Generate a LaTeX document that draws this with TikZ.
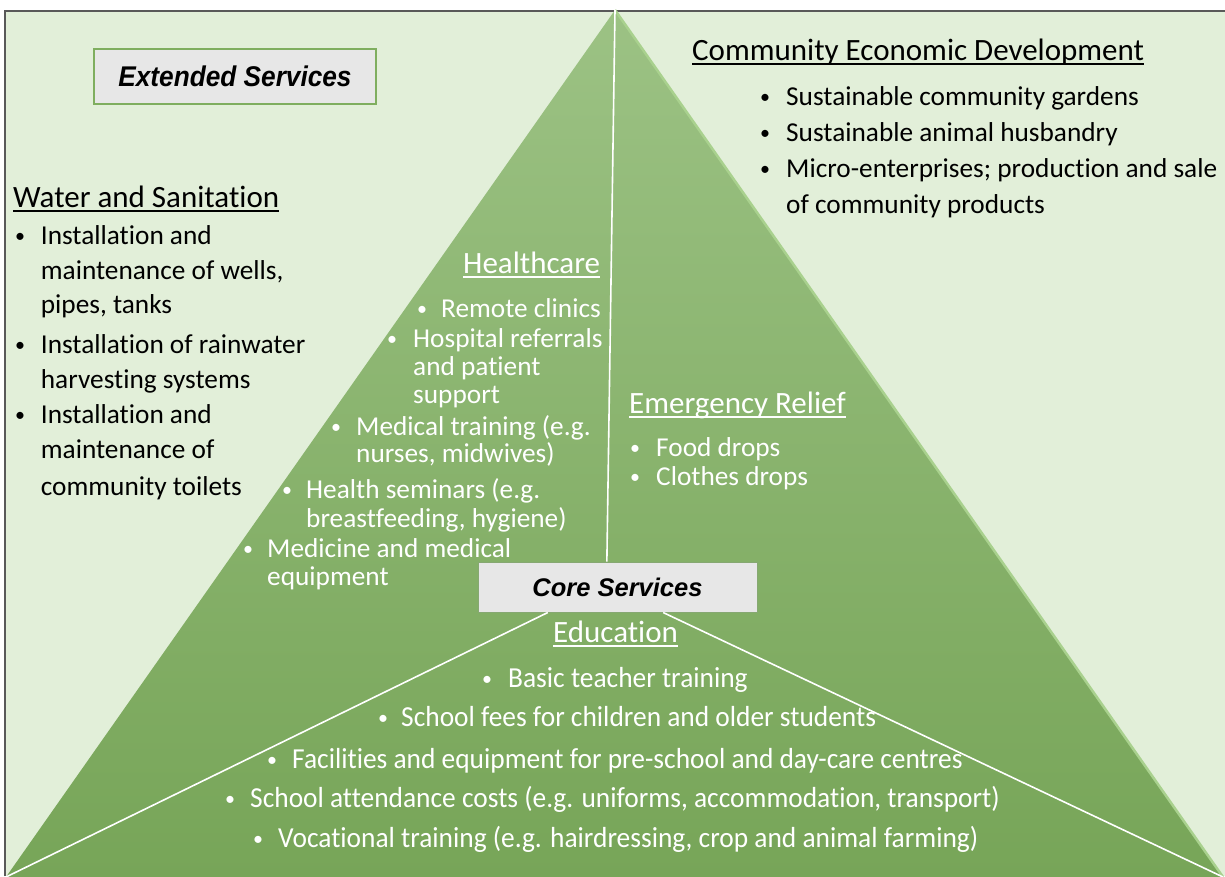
\documentclass[tikz,border=0pt]{standalone}
\usepackage{fontspec}
\setmainfont{Carlito}[Ligatures=NoCommon]
\newfontfamily\titlefont{Liberation Sans}
\usetikzlibrary{calc}

\definecolor{paper}{HTML}{E2EFD9}
\definecolor{frameline}{HTML}{595959}
\definecolor{pyrtop}{HTML}{9CC284}
\definecolor{pyrbot}{HTML}{77A558}
\definecolor{pyredge}{HTML}{A9D18E}
\definecolor{boxfill}{HTML}{E7E7E7}
\definecolor{boxedge}{HTML}{7FAE5F}
\definecolor{coreedge}{HTML}{86A872}

% underline drawn just below the baseline, in the current colour
\newcommand\ulin[1]{\setbox0\hbox{#1}\rlap{\rule[-0.17em]{\wd0}{0.06em}}\box0}

\tikzset{
  body/.style={font=\fontsize{27.3}{27.3}\selectfont, inner sep=0pt},
  dot/.style={font=\fontsize{20}{20}\selectfont, inner sep=0pt, anchor=base},
  head/.style={font=\fontsize{31}{31}\selectfont, inner sep=0pt, anchor=base west},
  divider/.style={white, line width=1.6pt},
  extbox/.style={draw=boxedge, line width=2pt, fill=boxfill, minimum width=282pt,
    minimum height=55pt, inner sep=0pt,
    font=\titlefont\bfseries\itshape\fontsize{28.5}{28.5}\selectfont},
  corebox/.style={draw=coreedge, line width=1pt, fill=boxfill, minimum width=279pt,
    minimum height=50pt, inner sep=0pt,
    font=\titlefont\bfseries\itshape\fontsize{25.5}{25.5}\selectfont},
}

% bulleted first line: name, bullet x, text x, baseline, text
\newcommand\bitem[5]{%
  \node[dot] (#1-dot) at (#2,#4-2) {•};
  \node[body, anchor=base west] (#1) at (#3,#4) {#5};}
% follow-on line of an item: name, text x, baseline, text
\newcommand\contline[4]{%
  \node[body, anchor=base west] (#1) at (#2,#3) {#4};}
% education lines are set taller and narrower
\newcommand\eitem[5]{%
  \node[dot] (#1-dot) at (#2,#4-2) {•};
  \node[body, anchor=base west, font=\fontsize{29}{29}\selectfont] (#1) at (#3,#4)
    {\scalebox{0.945}[1]{#5}};}

\begin{document}
\begin{tikzpicture}[x=1pt,y=-1pt]
\useasboundingbox (0,0) rectangle (1225,876);

% sheet and frame
\fill[white] (0,0) rectangle (1225,876);
\fill[paper] (5,11) rectangle (1225,876);
\draw[frameline, line width=2pt] (5,876) -- (5,11) -- (1225,11);

% pyramid
\coordinate (apex) at (615,10);
\coordinate (bl) at (6,877);
\coordinate (br) at (1223,877);
\shade[top color=pyrtop, bottom color=pyrbot] (apex) -- (br) -- (bl) -- cycle;
\draw[pyredge, line width=2.5pt] (apex) -- (br);

% central label and dividing lines
\node[corebox] (core) at (617.5,587) {Core Services};
\draw[divider] (apex) -- ($(core.north west)!0.462!(core.north east)$);
\draw[divider] ($(core.south west)!0.251!(core.south east)$) -- (bl);
\draw[divider] ($(core.south west)!0.663!(core.south east)$) -- (br);

\node[extbox] (ext) at (235,76.5) {\scalebox{0.92}[1]{Extended Services}};

% Water and Sanitation
\begin{scope}[text=black]
\node[head] (water) at (13,207) {\ulin{Water and Sanitation}};
\bitem{w1}{20}{40.7}{244}{Installation and}
\contline{w1b}{40.7}{279}{maintenance of wells,}
\contline{w1c}{40.7}{313}{pipes, tanks}
\bitem{w2}{20}{40.7}{353}{Installation of rainwater}
\contline{w2b}{40.7}{388}{harvesting systems}
\bitem{w3}{20}{40.7}{423}{Installation and}
\contline{w3b}{40.7}{458}{maintenance of}
\contline{w3c}{40.7}{495}{community toilets}

% Community Economic Development
\node[head] (ced) at (692,60) {\ulin{Community Economic Development}};
\bitem{c1}{765}{786}{105}{Sustainable community gardens}
\bitem{c2}{765}{786}{141}{Sustainable animal husbandry}
\bitem{c3}{765}{786}{177}{Micro-enterprises; production and sale}
\contline{c3b}{786}{213}{of community products}
\end{scope}

\begin{scope}[text=white]
% Healthcare
\node[head] (health) at (463,273) {\ulin{Healthcare}};
\bitem{h1}{422}{441}{317}{Remote clinics}
\bitem{h2}{392}{413}{347}{Hospital referrals}
\contline{h2b}{413}{375}{and patient}
\contline{h2c}{413}{403}{support}
\bitem{h3}{336}{356}{435}{Medical training (e.g.}
\contline{h3b}{356}{462}{nurses, midwives)}
\bitem{h4}{287}{306}{498}{Health seminars (e.g.}
\contline{h4b}{306}{527}{breastfeeding, hygiene)}
\bitem{h5}{248}{267}{557}{Medicine and medical}
\contline{h5b}{267}{585}{equipment}

% Emergency Relief
\node[head] (relief) at (629,413) {\ulin{Emergency Relief}};
\bitem{r1}{635}{656}{456}{Food drops}
\bitem{r2}{635}{656}{485}{Clothes drops}

% Education
\node[head] (edu) at (553,642) {\ulin{Education}};
\eitem{e1}{487}{508}{687}{Basic teacher training}
\eitem{e2}{383}{401}{726}{School fees for children and older students}
\eitem{e3}{272}{292}{768}{Facilities and equipment for pre-school and day-care centres}
\eitem{e4}{230}{250}{807}{School attendance costs (e.g. uniforms, accommodation, transport)}
\eitem{e5}{258}{278}{847}{Vocational training (e.g. hairdressing, crop and animal farming)}
\end{scope}
\end{tikzpicture}
\end{document}
